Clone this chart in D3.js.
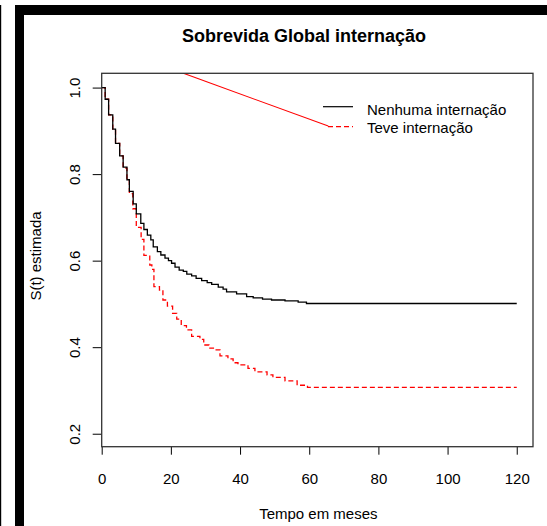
<!DOCTYPE html>
<html>
<head>
<meta charset="utf-8">
<script src="https://cdn.jsdelivr.net/npm/d3@7"></script>
<style>
  body { margin: 0; background: #fff; }
  svg { display: block; font-family: Arial, "Liberation Sans", sans-serif; }
</style>
</head>
<body>
<div id="chart"></div>
<script>
// data: step times (months) and estimated survival
const tNenhuma = [0, 1.0, 2.0, 3.2, 4.0, 5.2, 6.2, 7.3, 8.0, 9.1, 10.0, 11.3, 12.2, 13.2, 14.2, 14.9,
  16.1, 17.1, 18.3, 19.3, 20.2, 21.2, 22.4, 23.6, 24.6, 26.0, 27.3, 28.9, 30.5, 31.8, 33.7, 35.1,
  36.1, 39.0, 41.9, 43.8, 46.5, 49.1, 53.0, 56.8, 59.2, 120];
const sNenhuma = [1.0, 0.973, 0.937, 0.904, 0.871, 0.842, 0.816, 0.787, 0.760, 0.731, 0.708, 0.686, 0.672, 0.659, 0.648, 0.632,
  0.621, 0.613, 0.606, 0.600, 0.594, 0.585, 0.578, 0.575, 0.569, 0.565, 0.559, 0.554, 0.549, 0.545, 0.539, 0.534,
  0.528, 0.523, 0.517, 0.514, 0.511, 0.509, 0.507, 0.504, 0.501, 0.501];

const tTeve = [0, 1.0, 2.0, 3.2, 4.0, 5.2, 6.2, 7.3, 8.0, 9.0, 10.0, 11.4, 12.2, 13.9, 14.5, 15.1,
  16.7, 17.7, 19.0, 20.5, 21.7, 23.0, 24.5, 26.0, 28.4, 29.5, 31.0, 32.3, 34.2, 36.5, 38.0, 39.4,
  42.3, 44.3, 47.8, 49.5, 53.0, 56.5, 59.5, 120];
const sTeve = [1.0, 0.973, 0.937, 0.904, 0.871, 0.842, 0.814, 0.785, 0.755, 0.720, 0.677, 0.649, 0.612, 0.590, 0.580, 0.540,
  0.532, 0.509, 0.495, 0.478, 0.465, 0.450, 0.440, 0.425, 0.418, 0.405, 0.398, 0.394, 0.380, 0.373, 0.364, 0.359,
  0.351, 0.343, 0.336, 0.330, 0.322, 0.312, 0.307, 0.307];

// stray red segment that runs into the legend
const tStray = [0, 65.5];
const sStray = [1.102, 0.911];

const xTicks = [0, 20, 40, 60, 80, 100, 120];
const yTicks = [0.2, 0.4, 0.6, 0.8, 1.0];
const legendLabels = ['Nenhuma internação', 'Teve internação'];

const W = 547, H = 526;
const svg = d3.select('#chart').append('svg').attr('width', W).attr('height', H);

// black frame pieces around the picture
svg.append('rect').attr('x', 15).attr('y', 5).attr('width', W - 15).attr('height', 10).attr('fill', '#000');
svg.append('rect').attr('x', 15).attr('y', 5).attr('width', 9).attr('height', H - 5).attr('fill', '#000');
svg.append('rect').attr('x', 0).attr('y', 5).attr('width', 1.2).attr('height', H - 5).attr('fill', '#000');

const plot = { left: 101.7, right: 533, top: 73.3, bottom: 446.7 };
const x = d3.scaleLinear().domain([0, 124.7]).range([plot.left, plot.right]);
const y = d3.scaleLinear().domain([0.17, 1.033]).range([plot.bottom, plot.top]);

svg.append('defs').append('clipPath').attr('id', 'clip')
  .append('rect')
  .attr('x', plot.left).attr('y', plot.top)
  .attr('width', plot.right - plot.left).attr('height', plot.bottom - plot.top);

// title
svg.append('text')
  .attr('x', 304).attr('y', 41.5)
  .attr('text-anchor', 'middle')
  .attr('font-size', '18px').attr('font-weight', 'bold')
  .text('Sobrevida Global internação');

// axes
const xAxis = svg.append('g')
  .attr('transform', `translate(0,${plot.bottom})`)
  .call(d3.axisBottom(x).tickValues(xTicks).tickSize(8).tickPadding(0).tickFormat(d3.format('d')));
xAxis.select('.domain').remove();
xAxis.selectAll('text').attr('font-size', '15px').attr('fill', '#000').attr('dy', null).attr('y', 37);
xAxis.selectAll('line').attr('stroke', '#000');
xAxis.attr('font-family', null);

const yAxis = svg.append('g')
  .attr('transform', `translate(${plot.left},0)`)
  .call(d3.axisLeft(y).tickValues(yTicks).tickSize(9).tickFormat(d3.format('.1f')));
yAxis.select('.domain').remove();
yAxis.selectAll('line').attr('stroke', '#000');
yAxis.attr('font-family', null);
yAxis.selectAll('text')
  .attr('font-size', '15px').attr('fill', '#000')
  .attr('x', null).attr('dy', null)
  .attr('text-anchor', 'middle')
  .attr('transform', `translate(${80 - plot.left},0) rotate(-90)`);

// axis titles
svg.append('text')
  .attr('x', (plot.left + plot.right) / 2 + 1).attr('y', 519)
  .attr('text-anchor', 'middle').attr('font-size', '15px')
  .text('Tempo em meses');

svg.append('text')
  .attr('transform', `translate(41,${(plot.top + plot.bottom) / 2 - 4}) rotate(-90)`)
  .attr('text-anchor', 'middle').attr('font-size', '15px')
  .text('S(t) estimada');

// curves
const step = d3.line().x(d => x(d[0])).y(d => y(d[1])).curve(d3.curveStepAfter);
const curves = svg.append('g').attr('clip-path', 'url(#clip)');

curves.append('path')
  .datum(d3.zip(tTeve, sTeve))
  .attr('d', step)
  .attr('fill', 'none').attr('stroke', '#ff0000').attr('stroke-width', 1.3)
  .attr('stroke-dasharray', '5,3');

curves.append('path')
  .datum(d3.zip(tNenhuma, sNenhuma))
  .attr('d', step)
  .attr('fill', 'none').attr('stroke', '#000').attr('stroke-width', 1.3);

curves.append('path')
  .datum(d3.zip(tStray, sStray))
  .attr('d', d3.line().x(d => x(d[0])).y(d => y(d[1])))
  .attr('fill', 'none').attr('stroke', '#ff0000').attr('stroke-width', 1.1);

// box
svg.append('rect')
  .attr('x', plot.left).attr('y', plot.top)
  .attr('width', plot.right - plot.left).attr('height', plot.bottom - plot.top)
  .attr('fill', 'none').attr('stroke', '#333').attr('stroke-width', 1.3);

// legend
const legend = svg.append('g');
const legendStyles = [
  { color: '#000', dash: null, x1: 323 },
  { color: '#ff0000', dash: '5,3', x1: 328 }
];
legendLabels.forEach((label, i) => {
  const ly = 106.7 + i * 20;
  legend.append('line')
    .attr('x1', legendStyles[i].x1).attr('x2', 353)
    .attr('y1', ly).attr('y2', ly)
    .attr('stroke', legendStyles[i].color).attr('stroke-width', 1.2)
    .attr('stroke-dasharray', legendStyles[i].dash);
  legend.append('text')
    .attr('x', 367).attr('y', 114.5 + i * 18.5)
    .attr('font-size', '15px')
    .text(label);
});
</script>
</body>
</html>
